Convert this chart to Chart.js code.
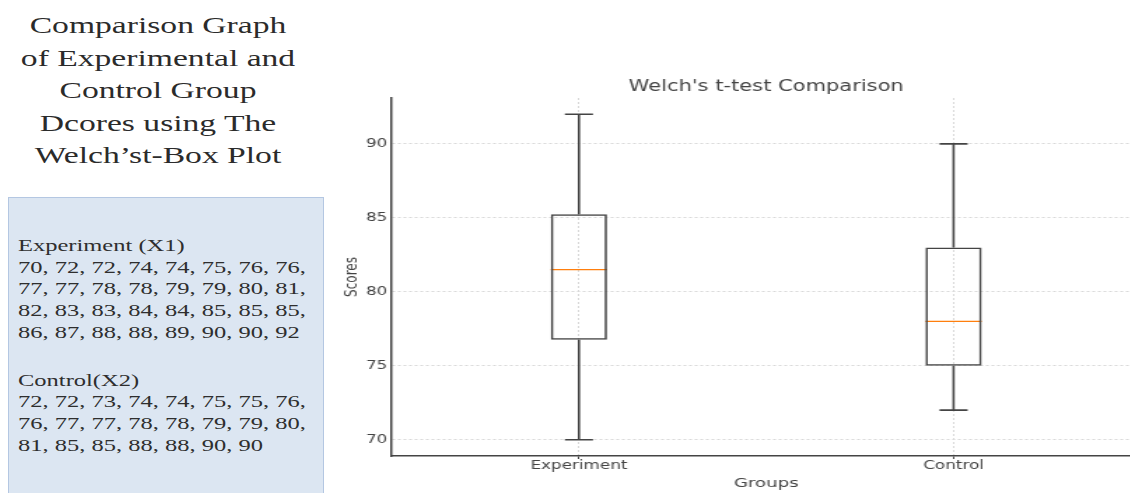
<!DOCTYPE html>
<html>
<head>
<meta charset="utf-8">
<title>Welch's t-test Comparison</title>
<script src="https://cdn.jsdelivr.net/npm/chart.js@4.4.1/dist/chart.umd.min.js"></script>
<style>
  html, body { margin: 0; padding: 0; width: 1130px; height: 493px; overflow: hidden; background: #fff; }
  .heading { position: absolute; left: 0; top: 9px; width: 316px; text-align: center;
    font-family: "Liberation Serif", "Times New Roman", serif; font-size: 24px; line-height: 32.5px; color: #2b2b2b; }
  .heading div, .panel div { transform: scaleX(1.4); white-space: nowrap; }
  .heading div { transform-origin: 50% 0; }
  .panel { position: absolute; left: 8px; top: 197px; width: 316px; height: 320px; box-sizing: border-box;
    background: #dce6f2; border: 1px solid #b4c7e2; padding: 37px 0 0 9px;
    font-family: "Liberation Serif", "Times New Roman", serif; font-size: 17.5px; line-height: 21.7px; color: #2e2e2e; }
  .panel div { transform-origin: 0 0; }
  .panel .gap { margin-top: 26px; }
  #wrap { position: absolute; left: 330px; top: 0; width: 580px; height: 493px; transform: scaleX(1.4); transform-origin: 0 0; }
</style>
</head>
<body>
<div class="heading" id="heading"></div>
<div class="panel" id="panel"></div>
<div id="wrap"><canvas id="chart"></canvas></div>
<script>
const headingLines = ['Comparison Graph', 'of Experimental and', 'Control Group', 'Dcores using The', 'Welch\u2019st-Box Plot'];
const groups = ['Experiment', 'Control'];
const groupHeaders = ['Experiment (X1)', 'Control(X2)'];
const experimentScores = [70, 72, 72, 74, 74, 75, 76, 76, 77, 77, 78, 78, 79, 79, 80, 81,
  82, 83, 83, 84, 84, 85, 85, 85, 86, 87, 88, 88, 89, 90, 90, 92];
const controlScores = [72, 72, 73, 74, 74, 75, 75, 76, 76, 77, 77, 78, 78, 79, 79, 80,
  81, 85, 85, 88, 88, 90, 90];

// box plot values
const whiskerLow = [70, 72];
const q1 = [76.75, 75];
const median = [81.5, 78];
const q3 = [85.25, 83];
const whiskerHigh = [92, 90];
const yTicks = [70, 75, 80, 85, 90];

const boxWidth = 0.15;
const capWidth = 0.075;

// left text
document.getElementById('heading').innerHTML = headingLines.map(l => '<div>' + l + '</div>').join('');

function scoreLines(scores) {
    const lines = [];
    for (let i = 0; i < scores.length; i += 8) {
        lines.push(scores.slice(i, i + 8).join(', ') + (i + 8 < scores.length ? ',' : ''));
    }
    return lines;
}
let panelHtml = '';
[experimentScores, controlScores].forEach((scores, g) => {
    panelHtml += '<div' + (g > 0 ? ' class="gap"' : '') + '>' + groupHeaders[g] + '</div>';
    scoreLines(scores).forEach(l => { panelHtml += '<div>' + l + '</div>'; });
});
document.getElementById('panel').innerHTML = panelHtml;

// chart
Chart.defaults.font.family = 'DejaVu Sans';
Chart.defaults.color = '#444';

const lineColor = '#444';
const medianColor = '#ff7f0e';

function segment(points, color, width) {
    return {
        type: 'line',
        data: points,
        borderColor: color,
        borderWidth: width,
        pointRadius: 0,
        fill: false
    };
}

const datasets = [{
    type: 'bar',
    data: groups.map((g, i) => ({ x: i + 1, y: [q1[i], q3[i]] })),
    backgroundColor: 'rgba(0,0,0,0)',
    borderColor: lineColor,
    borderWidth: 1.6,
    borderSkipped: false,
    barPercentage: boxWidth,
    categoryPercentage: 1
}];

groups.forEach((g, i) => {
    const c = i + 1;
    datasets.push(segment([{ x: c, y: whiskerLow[i] }, { x: c, y: q1[i] }], lineColor, 1.6));
    datasets.push(segment([{ x: c, y: q3[i] }, { x: c, y: whiskerHigh[i] }], lineColor, 1.6));
    datasets.push(segment([{ x: c - capWidth / 2, y: whiskerLow[i] }, { x: c + capWidth / 2, y: whiskerLow[i] }], lineColor, 1.6));
    datasets.push(segment([{ x: c - capWidth / 2, y: whiskerHigh[i] }, { x: c + capWidth / 2, y: whiskerHigh[i] }], lineColor, 1.6));
    datasets.push(segment([{ x: c - boxWidth / 2, y: median[i] }, { x: c + boxWidth / 2, y: median[i] }], medianColor, 1.3));
});

new Chart(document.getElementById('chart'), {
    type: 'bar',
    data: { datasets: datasets },
    options: {
        responsive: true,
        maintainAspectRatio: false,
        animation: false,
        layout: { padding: 0 },
        plugins: {
            legend: { display: false },
            tooltip: { enabled: false },
            title: {
                display: true,
                fullSize: false,
                text: "Welch's t-test Comparison",
                color: '#444',
                font: { size: 15, weight: 'normal' },
                padding: { top: 78, bottom: 2 }
            }
        },
        scales: {
            x: {
                type: 'linear',
                offset: false,
                min: 0.5,
                max: 2.5,
                afterBuildTicks: (scale) => { scale.ticks = groups.map((g, i) => ({ value: i + 1 })); },
                afterFit: (scale) => { scale.height = 37; },
                ticks: {
                    padding: 0,
                    font: { size: 12 },
                    callback: (v) => groups[v - 1]
                },
                grid: { offset: false, color: '#d9d9d9', lineWidth: 1, drawTicks: true, tickLength: 3, tickColor: '#444', tickWidth: 1 },
                border: { display: true, color: '#444', width: 1.5, dash: [2, 2] },
                title: { display: true, text: 'Groups', font: { size: 13 }, padding: { top: 0, bottom: 2 } }
            },
            y: {
                type: 'linear',
                min: 68.9,
                max: 93.1,
                afterBuildTicks: (scale) => { scale.ticks = yTicks.map(v => ({ value: v })); },
                afterFit: (scale) => { scale.width = 44; },
                ticks: { padding: 3, font: { size: 12 } },
                grid: { color: '#d9d9d9', lineWidth: 1, drawTicks: false },
                border: { display: true, color: '#444', width: 1.5, dash: [2, 2] },
                title: { display: true, text: 'Scores', font: { size: 12 }, padding: { top: 9, bottom: 0 } }
            }
        }
    }
});
</script>
</body>
</html>
